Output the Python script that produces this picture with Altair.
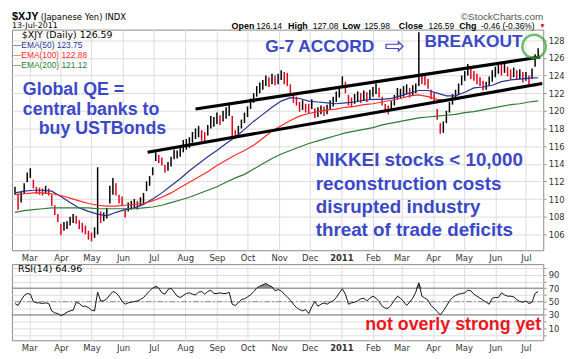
import altair as alt
import pandas as pd

# ---------------- data ----------------
# daily-ish price bars (every 3 calendar days from 2010-02-15): low / high
lo = [
    110.5, 108.8, 109.6, 110.6, 111.9, 112.4, 111.2, 110.6, 110.5, 110.4,
    110.6, 110.4, 109.2, 108.2, 107.4, 105.9, 106.4, 106.6, 107.0, 107.3,
    107.2, 106.6, 106.2, 106.0, 105.4, 105.2, 105.6, 106.0, 107.3, 107.5,
    107.8, 109.5, 110.5, 110.4, 109.5, 109.3, 107.9, 108.6, 108.8, 109.0,
    108.8, 109.2, 109.5, 110.9, 111.5, 112.7, 114.3, 114.1, 113.8, 113.0,
    113.2, 113.7, 114.5, 114.6, 114.8, 115.3, 115.6, 115.8, 116.4, 116.8,
    117.0, 116.6, 116.5, 117.2, 118.0, 118.2, 118.5, 118.4, 118.8, 119.1,
    119.4, 117.0, 116.8, 117.2, 118.0, 118.6, 119.3, 120.2, 120.9, 121.6,
    122.0, 122.4, 122.8, 122.7, 123.0, 122.9, 123.0, 123.5, 123.0, 122.8,
    121.8, 120.9, 120.6, 119.9, 120.1, 119.8, 119.7, 120.2, 119.2, 119.3,
    119.6, 119.4, 119.6, 120.2, 120.5, 121.0, 121.5, 122.6, 122.0, 120.6,
    120.4, 120.8, 121.0, 120.9, 121.1, 121.0, 121.3, 121.6, 121.9, 121.5,
    120.6, 119.8, 119.6, 120.0, 120.6, 121.3, 121.4, 121.6, 121.9, 121.5,
    121.7, 122.0, 122.8, 123.0, 122.9, 122.5, 121.3, 121.0, 119.0, 117.4,
    117.5, 118.6, 119.8, 120.7, 121.2, 121.8, 122.9, 123.4, 124.0, 123.6,
    123.4, 123.0, 122.8, 122.3, 122.4, 122.8, 123.3, 123.8, 124.2, 124.0,
    124.3, 123.9, 123.6, 123.8, 123.5, 123.6, 123.2, 123.4, 123.0, 123.6,
    125.0, 125.98,
]
hi = [
    111.4, 110.6, 110.8, 111.8, 113.0, 113.5, 112.2, 111.4, 111.3, 111.2,
    111.5, 111.2, 110.5, 109.3, 108.3, 107.2, 107.4, 107.5, 108.0, 108.3,
    108.1, 107.6, 107.3, 107.0, 106.4, 106.2, 106.8, 113.6, 108.6, 108.5,
    109.0, 111.5, 112.4, 111.8, 110.5, 110.3, 108.8, 109.6, 109.8, 110.0,
    109.8, 110.2, 110.7, 112.0, 112.6, 113.6, 115.3, 115.0, 114.7, 113.9,
    114.2, 114.8, 115.6, 115.5, 115.8, 116.7, 116.8, 117.0, 117.6, 118.0,
    118.3, 117.8, 117.6, 118.4, 119.4, 119.3, 119.8, 119.5, 120.0, 120.4,
    120.7, 119.4, 117.8, 118.3, 119.0, 119.8, 120.5, 121.4, 122.0, 122.8,
    123.2, 123.5, 124.0, 123.8, 124.2, 124.0, 124.2, 124.6, 124.4, 124.3,
    123.0, 122.0, 121.6, 121.0, 121.2, 120.8, 120.8, 121.3, 120.3, 120.4,
    120.6, 120.5, 120.7, 121.2, 121.6, 122.2, 122.6, 123.9, 123.3, 121.8,
    121.5, 121.9, 122.2, 122.0, 122.3, 122.1, 122.4, 122.7, 123.1, 122.6,
    121.6, 120.8, 120.6, 121.1, 121.8, 122.6, 122.5, 122.8, 123.0, 122.6,
    122.9, 123.1, 128.9, 124.2, 124.0, 123.6, 122.4, 122.0, 120.2, 118.6,
    118.8, 120.0, 121.0, 121.9, 122.4, 123.1, 124.0, 124.5, 125.3, 124.8,
    124.5, 124.2, 123.8, 123.4, 123.3, 123.9, 124.6, 125.0, 125.2, 125.3,
    125.3, 125.0, 124.7, 124.9, 124.6, 124.7, 124.4, 124.4, 124.0, 124.8,
    126.4, 127.08,
]
rsi = [
    47, 44, 52, 59, 62, 61, 50, 48, 48, 47,
    48, 47, 36, 33, 32, 29, 31, 34, 36, 37,
    49, 47, 43, 43, 41, 37, 36, 64, 51, 51,
    54, 60, 65, 63, 58, 50, 46, 48, 49, 50,
    51, 53, 56, 61, 66, 70, 73, 70, 63, 61,
    68, 70, 64, 58, 56, 59, 62, 63, 61, 60,
    64, 65, 61, 65, 67, 62, 62, 63, 62, 62,
    64, 46, 44, 48, 53, 54, 57, 60, 65, 70,
    73, 75, 77, 74, 72, 66, 68, 66, 61, 57,
    52, 46, 41, 38, 36, 38, 32, 42, 50, 43,
    46, 48, 46, 49, 51, 56, 63, 69, 61, 46,
    48, 49, 51, 54, 55, 51, 55, 58, 55, 50,
    43, 40, 40, 45, 52, 58, 55, 50, 44, 49,
    55, 64, 78, 58, 55, 52, 44, 40, 35, 30,
    36, 43, 51, 56, 59, 61, 62, 63, 67, 66,
    61, 58, 55, 52, 49, 46, 55, 56, 56, 63,
    60, 58, 58, 57, 53, 50, 49, 51, 47, 49,
    62, 65,
]
# moving averages, every 9 calendar days from 2010-02-15
ema50 = [
    110.7, 110.9, 111.0, 111.0, 110.9, 110.3, 109.6, 109.0, 108.6, 108.3,
    108.1, 108.5, 108.8, 109.0, 109.4, 110.0, 110.7, 111.5, 112.3, 113.2,
    114.0, 114.8, 115.5, 116.3, 117.0, 117.9, 118.8, 119.6, 120.4, 121.1,
    121.5, 121.4, 121.1, 121.0, 120.9, 120.8, 120.9, 121.0, 121.2, 121.3,
    121.3, 121.4, 121.7, 122.0, 122.3, 122.3, 122.0, 121.7, 121.7, 122.1,
    122.6, 122.7, 122.9, 123.3, 123.5, 123.6, 123.7, 123.75,
]
ema100 = [
    110.5, 110.6, 110.7, 110.7, 110.6, 110.4, 110.1, 109.8, 109.5, 109.3,
    109.2, 109.2, 109.3, 109.4, 109.5, 109.8, 110.2, 110.7, 111.3, 111.9,
    112.5, 113.1, 113.8, 114.4, 115.0, 115.5, 116.1, 116.9, 117.7, 118.3,
    118.9, 119.4, 119.7, 119.9, 120.1, 120.2, 120.4, 120.5, 120.7, 120.8,
    121.0, 121.2, 121.4, 121.7, 121.8, 121.6, 121.3, 121.2, 121.3, 121.5,
    121.8, 122.0, 122.1, 122.3, 122.5, 122.6, 122.8, 122.88,
]
ema200 = [
    108.5, 108.7, 108.8, 108.9, 109.0, 109.0, 109.0, 109.0, 109.0, 108.9,
    108.9, 108.9, 108.9, 108.9, 109.0, 109.1, 109.3, 109.6, 109.9, 110.2,
    110.6, 111.0, 111.4, 111.9, 112.4, 112.8, 113.4, 114.0, 114.6, 115.1,
    115.5, 115.9, 116.3, 116.6, 116.9, 117.2, 117.5, 117.7, 117.9, 118.1,
    118.4, 118.6, 118.8, 119.0, 119.2, 119.3, 119.4, 119.5, 119.6, 119.8,
    119.9, 120.1, 120.3, 120.5, 120.7, 120.8, 121.0, 121.12,
]
ema_names = ["EMA(50)", "EMA(100)", "EMA(200)"]
ema_last = ["123.75", "122.88", "121.12"]
ema_colors = ["#27338f", "#ff2a2a", "#2e7b34"]

quote_labels = ["Open", "High", "Low", "Close", "Chg"]
quote_values = ["126.14", "127.08", "125.98", "126.59", "-0.46 (-0.36%)"]

price_ticks = list(range(106, 129, 2))
rsi_ticks = list(range(0, 101, 10))
months = [(2010, m) for m in range(3, 13)] + [(2011, m) for m in range(1, 8)]

upper_dates, upper_vals = ["2010-08-11", "2011-07-15"], [120.2, 126.1]
lower_dates, lower_vals = ["2010-06-25", "2011-07-17"], [115.3, 123.1]
circle_date, circle_val = ["2011-07-09"], [127.3]

# ---------------- frames ----------------
dates = pd.date_range("2010-02-15", periods=len(lo), freq="3D")
ema_dates = pd.date_range("2010-02-15", periods=len(ema50), freq="9D")
mid = [(a + b) / 2 for a, b in zip(lo, hi)]
direction = ["up"] + ["up" if mid[i] >= mid[i - 1] else "down" for i in range(1, len(mid))]
price = pd.DataFrame({"date": dates, "lo": lo, "hi": hi, "dir": direction})

ema = pd.concat([
    pd.DataFrame({"date": ema_dates, "value": vals, "series": name})
    for name, vals in zip(ema_names, [ema50, ema100, ema200])
])
trend = pd.concat([
    pd.DataFrame({"date": pd.to_datetime(upper_dates), "value": upper_vals, "line": "upper"}),
    pd.DataFrame({"date": pd.to_datetime(lower_dates), "value": lower_vals, "line": "lower"}),
])
circ = pd.DataFrame({"date": pd.to_datetime(circle_date), "value": circle_val})

rsi_df = pd.DataFrame({"date": dates, "rsi": rsi})
rsi_df["top"] = rsi_df["rsi"].clip(lower=70)
rsi_df["base"] = 70

W, H1, H2 = 537, 223, 77
FONT = "DejaVu Sans"
BOLD = "Liberation Sans"
BLUE = "#3b48c8"

xdomain = [alt.DateTime(year=2010, month=2, date=12), alt.DateTime(year=2011, month=7, date=18)]
month_vals = [alt.DateTime(year=y, month=m, date=1) for y, m in months]


def xenc():
    return alt.X(
        "date:T",
        scale=alt.Scale(domain=xdomain),
        axis=alt.Axis(
            values=month_vals,
            labelExpr="month(datum.value) == 0 ? timeFormat(datum.value, '%Y') : timeFormat(datum.value, '%b')",
            labelFontWeight={"condition": {"test": "month(datum.value) == 0", "value": "bold"}, "value": "normal"},
            grid=True, gridColor="#dcdcdc", domain=False, ticks=False,
            labelPadding=3, labelFont=FONT, labelFontSize=8.5, labelColor="#333",
            labelOverlap=False, labelFlush=False, title=None,
        ),
    )


def ypr(field):
    return alt.Y(
        f"{field}:Q",
        scale=alt.Scale(domain=[104.2, 129.2], zero=False, nice=False),
        axis=alt.Axis(
            orient="right", values=price_ticks, grid=True, gridColor="#dcdcdc",
            domain=False, tickSize=3, tickColor="#999", labelPadding=2,
            labelFont=FONT, labelFontSize=8.5, labelColor="#333", title=None,
        ),
    )


def yrs(field):
    return alt.Y(
        f"{field}:Q",
        scale=alt.Scale(domain=[-8, 106], zero=False, nice=False),
        axis=alt.Axis(
            orient="right", values=rsi_ticks, grid=True, gridColor="#dcdcdc",
            domain=False, tickSize=3, tickColor="#999", labelPadding=2,
            labelExpr="datum.value % 20 == 10 ? datum.label : ''",
            labelFont=FONT, labelFontSize=8.5, labelColor="#333", title=None,
        ),
    )


def label(txt, x, y, size, color="#000", weight="normal", font=BOLD,
          align="left", baseline="alphabetic"):
    return alt.Chart(pd.DataFrame({"t": [txt]})).mark_text(
        align=align, baseline=baseline, fontSize=size, font=font,
        fontWeight=weight, color=color,
    ).encode(x=alt.value(x), y=alt.value(y), text="t:N")


# ---------------- main price panel ----------------
bars = alt.Chart(price).mark_rule(strokeWidth=1.5).encode(
    x=xenc(), y=ypr("lo"), y2="hi:Q",
    color=alt.Color("dir:N", scale=alt.Scale(domain=["up", "down"], range=["#000000", "#e0001b"]), legend=None),
)
ema_lines = alt.Chart(ema).mark_line(strokeWidth=1.2).encode(
    x=xenc(), y=ypr("value"),
    color=alt.Color("series:N", scale=alt.Scale(domain=ema_names, range=ema_colors), legend=None),
)
trend_lines = alt.Chart(trend).mark_line(color="#000", strokeWidth=3.2, clip=True).encode(
    x=xenc(), y=ypr("value"), detail="line:N"
)
ring = alt.Chart(circ).mark_point(shape="circle", size=560, filled=False, color="#33a532", strokeWidth=2.5).encode(
    x=xenc(), y=ypr("value")
)

header = [
    label("$XJY", 0, -19, 11, weight="bold", baseline="top"),
    label("(Japanese Yen) INDX", 29, -16.8, 8.5, font=FONT, baseline="top"),
    label("\u00a9StockCharts.com", 537, -18, 10, color="#555", align="right", baseline="top"),
    label("13-Jul-2011", 0, -4, 8, font=FONT, baseline="middle"),
]
qx_lab = [222, 279, 334, 391, 452]
qx_val = [247, 304, 356, 421, 474]
for t, v, xl, xv in zip(quote_labels, quote_values, qx_lab, qx_val):
    header.append(label(t, xl, -4, 9, weight="bold", baseline="middle"))
    header.append(label(v, xv, -4, 8.5, baseline="middle"))
header.append(label("\u25bc", 533, -4, 6.5, color="#d0002a", baseline="middle"))

legend_txt = [label("$XJY (Daily) 126.59", 10, 5, 9.5, font=FONT, baseline="middle")]
for i, (n, v, c) in enumerate(zip(ema_names, ema_last, ema_colors)):
    legend_txt.append(label("\u2014" + n + " " + v, 1, 16 + 10 * i, 8.5, color=c, baseline="middle"))

notes = [
    label("Global QE =", 11, 66, 18, color=BLUE, weight="bold"),
    label("central banks to", 11, 86, 18, color=BLUE, weight="bold"),
    label("buy USTBonds", 27, 106, 18, color=BLUE, weight="bold"),
    label("NIKKEI stocks < 10,000", 307, 138, 19, color=BLUE, weight="bold"),
    label("reconstruction costs", 307, 162, 19, color=BLUE, weight="bold"),
    label("disrupted industry", 307, 185, 19, color=BLUE, weight="bold"),
    label("threat of trade deficits", 307, 209, 19, color=BLUE, weight="bold"),
    label("G-7 ACCORD", 256, 23, 17.5, color=BLUE, weight="bold"),
    label("\u21e8", 387, 17, 25, color=BLUE, font=FONT, align="center", baseline="middle"),
    label("BREAKOUT", 417, 18, 17.5, color=BLUE, weight="bold"),
]

main = (
    alt.layer(bars, ema_lines, trend_lines, ring, *header, *legend_txt, *notes)
    .resolve_scale(color="independent")
    .properties(width=W, height=H1)
)

# ---------------- RSI panel ----------------
shade = alt.Chart(rsi_df).mark_area(color="#8c8c8c").encode(x=xenc(), y=yrs("top"), y2="base:Q")
bands = alt.Chart(pd.DataFrame({"level": [70, 30]})).mark_rule(color="#777", strokeWidth=1).encode(y=yrs("level"))
midline = alt.Chart(pd.DataFrame({"level": [50]})).mark_rule(color="#999", strokeWidth=1, strokeDash=[6, 2, 2, 2]).encode(y=yrs("level"))
rsi_line = alt.Chart(rsi_df).mark_line(color="#111", strokeWidth=1).encode(x=xenc(), y=yrs("rsi"))
rsi_txt = [
    label("RSI(14) 64.96", 6, 5, 9.5, font=FONT, baseline="middle"),
    label("not overly strong yet", 357, 67, 18, color="#e8191e", weight="bold"),
]
rsi_panel = alt.layer(shade, bands, midline, rsi_line, *rsi_txt).properties(width=W, height=H2)

chart = (
    alt.vconcat(main, rsi_panel, spacing=1)
    .configure(padding={"left": 3, "top": 0, "right": 2, "bottom": 0}, background="white")
    .configure_view(stroke="#8a8a8a", strokeWidth=1)
)
chart.save("out.html", embed_options={"renderer": "svg", "actions": False})
